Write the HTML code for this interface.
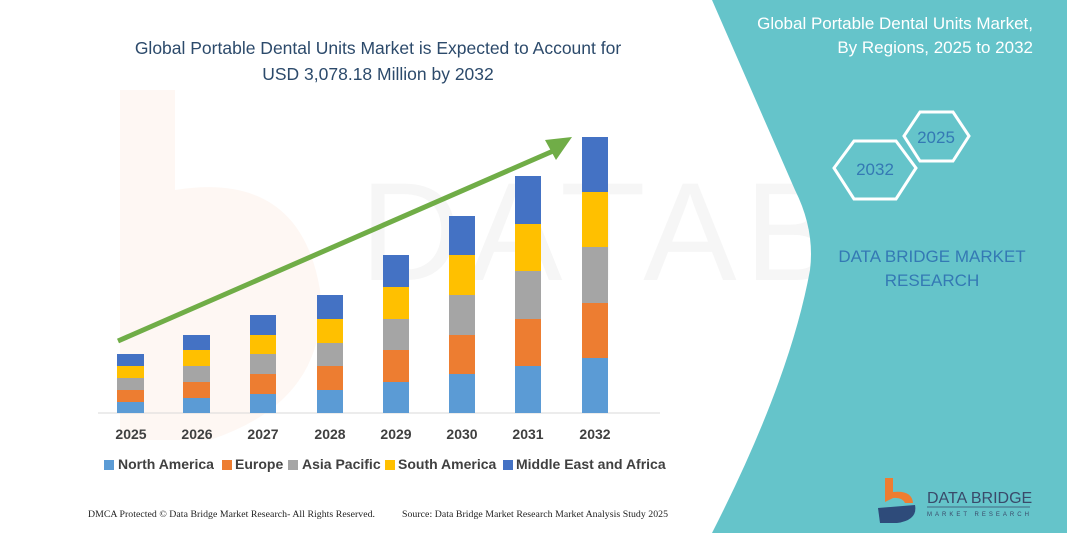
<!DOCTYPE html>
<html><head><meta charset="utf-8"><style>
html,body{margin:0;padding:0;background:#fff;}
svg{display:block;}
</style></head><body>
<svg width="1067" height="533" viewBox="0 0 1067 533" xmlns="http://www.w3.org/2000/svg" font-family="'Liberation Sans',sans-serif">
<rect width="1067" height="533" fill="#fff"/>
<!-- faint watermark -->
<path d="M120 90 L175 90 L175 190 Q300 170 320 290 Q330 400 210 440 L120 440 Z" fill="#fdf3ee" opacity="0.7"/>
<text x="360" y="280" font-size="140" fill="#f6f6f6" letter-spacing="8">DATABRIDGE</text>
<!-- teal panel -->
<path d="M712 0 L1067 0 L1067 533 L712 533 Q790 380 810 270 Q815 230 795 190 Z" fill="#65C4CA"/>
<text x="1033" y="29" font-size="17" fill="#fff" text-anchor="end">Global Portable Dental Units Market,</text>
<text x="1033" y="53" font-size="17" fill="#fff" text-anchor="end">By Regions, 2025 to 2032</text>
<polygon points="854,141 896,141 916,168 896,199 854,199 834,168" fill="none" stroke="#fff" stroke-width="3"/>
<polygon points="920,112 953,112 969,136 953,161 920,161 904,136" fill="none" stroke="#fff" stroke-width="3"/>
<text x="875" y="175" font-size="17" fill="#3479B4" text-anchor="middle">2032</text>
<text x="936" y="143" font-size="17" fill="#3479B4" text-anchor="middle">2025</text>
<text x="932" y="262" font-size="17" fill="#3479B4" text-anchor="middle">DATA BRIDGE MARKET</text>
<text x="932" y="286" font-size="17" fill="#3479B4" text-anchor="middle">RESEARCH</text>
<!-- logo -->
<path d="M885 478 L893 478 L893 492 Q912 490 913 503 L905 503 Q902 497 893 498 L885 502 Z" fill="#EE7D31"/>
<path d="M878 508 L915 505 Q918 520 897 523 L880 523 Z" fill="#2E4B7A"/>
<text x="927" y="503" font-size="16" fill="#3A4A6A">DATA BRIDGE</text>
<line x1="927" y1="507" x2="1030" y2="507" stroke="#3A4A6A" stroke-width="0.7"/>
<text x="927" y="516" font-size="6" fill="#3A4A6A" letter-spacing="3">MARKET RESEARCH</text>
<!-- title -->
<text x="378" y="54" font-size="17.5" fill="#2C4A6B" text-anchor="middle">Global Portable Dental Units Market is Expected to Account for</text>
<text x="378" y="80" font-size="17.5" fill="#2C4A6B" text-anchor="middle">USD 3,078.18 Million by 2032</text>
<!-- axis -->
<line x1="98" y1="413" x2="660" y2="413" stroke="#d9d9d9" stroke-width="1"/>
<g>
<rect x="117" y="402" width="27" height="11" fill="#5B9BD5"/><rect x="117" y="390" width="27" height="12" fill="#ED7D31"/><rect x="117" y="378" width="27" height="12" fill="#A5A5A5"/><rect x="117" y="366" width="27" height="12" fill="#FFC000"/><rect x="117" y="354" width="27" height="12" fill="#4472C4"/>
<rect x="183" y="398" width="27" height="15" fill="#5B9BD5"/><rect x="183" y="382" width="27" height="16" fill="#ED7D31"/><rect x="183" y="366" width="27" height="16" fill="#A5A5A5"/><rect x="183" y="350" width="27" height="16" fill="#FFC000"/><rect x="183" y="335" width="27" height="15" fill="#4472C4"/>
<rect x="250" y="394" width="26" height="19" fill="#5B9BD5"/><rect x="250" y="374" width="26" height="20" fill="#ED7D31"/><rect x="250" y="354" width="26" height="20" fill="#A5A5A5"/><rect x="250" y="335" width="26" height="19" fill="#FFC000"/><rect x="250" y="315" width="26" height="20" fill="#4472C4"/>
<rect x="317" y="390" width="26" height="23" fill="#5B9BD5"/><rect x="317" y="366" width="26" height="24" fill="#ED7D31"/><rect x="317" y="343" width="26" height="23" fill="#A5A5A5"/><rect x="317" y="319" width="26" height="24" fill="#FFC000"/><rect x="317" y="295" width="26" height="24" fill="#4472C4"/>
<rect x="383" y="382" width="26" height="31" fill="#5B9BD5"/><rect x="383" y="350" width="26" height="32" fill="#ED7D31"/><rect x="383" y="319" width="26" height="31" fill="#A5A5A5"/><rect x="383" y="287" width="26" height="32" fill="#FFC000"/><rect x="383" y="255" width="26" height="32" fill="#4472C4"/>
<rect x="449" y="374" width="26" height="39" fill="#5B9BD5"/><rect x="449" y="335" width="26" height="39" fill="#ED7D31"/><rect x="449" y="295" width="26" height="40" fill="#A5A5A5"/><rect x="449" y="255" width="26" height="40" fill="#FFC000"/><rect x="449" y="216" width="26" height="39" fill="#4472C4"/>
<rect x="515" y="366" width="26" height="47" fill="#5B9BD5"/><rect x="515" y="319" width="26" height="47" fill="#ED7D31"/><rect x="515" y="271" width="26" height="48" fill="#A5A5A5"/><rect x="515" y="224" width="26" height="47" fill="#FFC000"/><rect x="515" y="176" width="26" height="48" fill="#4472C4"/>
<rect x="582" y="358" width="26" height="55" fill="#5B9BD5"/><rect x="582" y="303" width="26" height="55" fill="#ED7D31"/><rect x="582" y="247" width="26" height="56" fill="#A5A5A5"/><rect x="582" y="192" width="26" height="55" fill="#FFC000"/><rect x="582" y="137" width="26" height="55" fill="#4472C4"/>
</g>
<!-- arrow -->
<line x1="118" y1="341" x2="560" y2="148" stroke="#70AD47" stroke-width="5"/>
<polygon points="572,137 545,140 556,160" fill="#70AD47"/>
<!-- years -->
<g font-size="14" font-weight="bold" fill="#404040" text-anchor="middle">
<text x="131" y="439">2025</text><text x="197" y="439">2026</text><text x="263" y="439">2027</text><text x="330" y="439">2028</text><text x="396" y="439">2029</text><text x="462" y="439">2030</text><text x="528" y="439">2031</text><text x="595" y="439">2032</text>
</g>
<!-- legend -->
<g font-size="14" font-weight="bold" fill="#404040">
<rect x="104" y="460" width="10" height="10" fill="#5B9BD5"/><text x="118" y="469">North America</text>
<rect x="222" y="460" width="10" height="10" fill="#ED7D31"/><text x="235" y="469">Europe</text>
<rect x="288" y="460" width="10" height="10" fill="#A5A5A5"/><text x="302" y="469">Asia Pacific</text>
<rect x="385" y="460" width="10" height="10" fill="#FFC000"/><text x="398" y="469">South America</text>
<rect x="503" y="460" width="10" height="10" fill="#4472C4"/><text x="516" y="469">Middle East and Africa</text>
</g>
<g font-family="'Liberation Serif',serif" font-size="9.8" fill="#222">
<text x="88" y="517" textLength="287">DMCA Protected © Data Bridge Market Research-  All Rights Reserved.</text>
<text x="402" y="517" textLength="266">Source: Data Bridge Market Research  Market Analysis Study 2025</text>
</g>
</svg>
</body></html>
